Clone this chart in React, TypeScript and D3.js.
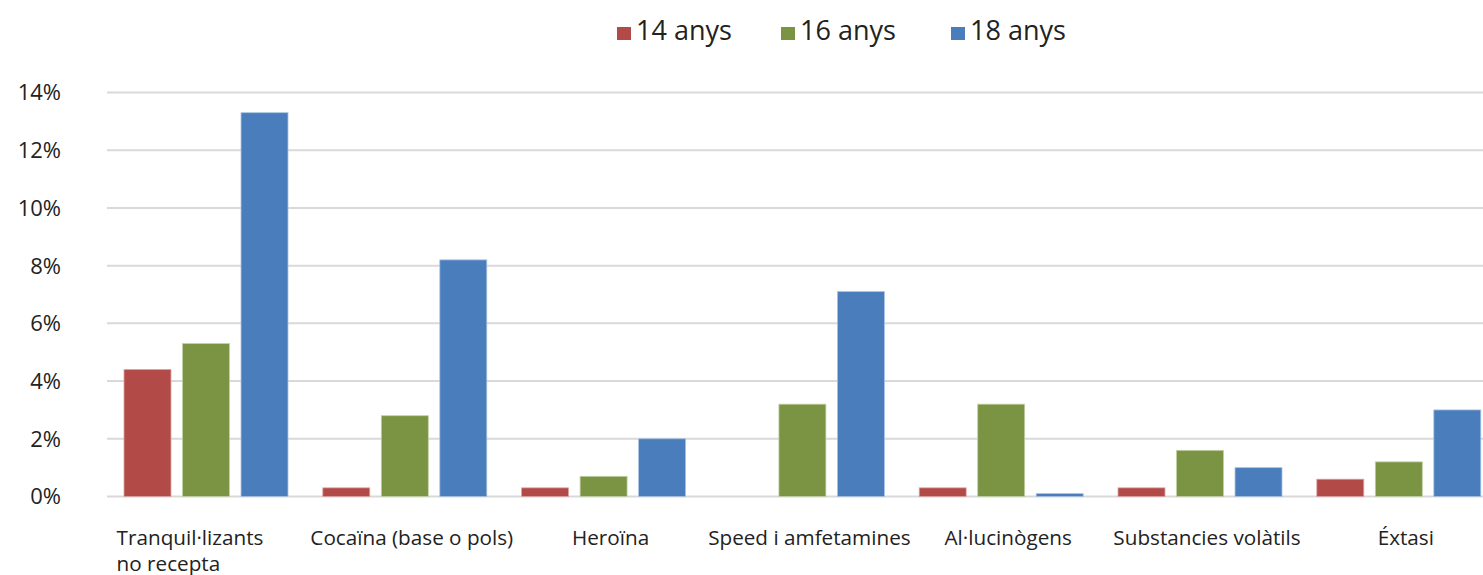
import React from "react";
import * as d3 from "d3";

const categories = [
  ["Tranquil·lizants", "no recepta"],
  ["Cocaïna (base o pols)"],
  ["Heroïna"],
  ["Speed i amfetamines"],
  ["Al·lucinògens"],
  ["Substancies volàtils"],
  ["Éxtasi"],
];
const series = ["14 anys", "16 anys", "18 anys"];
const values14 = [4.4, 0.3, 0.3, 0, 0.3, 0.3, 0.6];
const values16 = [5.3, 2.8, 0.7, 3.2, 3.2, 1.6, 1.2];
const values18 = [13.3, 8.2, 2.0, 7.1, 0.1, 1.0, 3.0];
const yTicks = [0, 2, 4, 6, 8, 10, 12, 14];
const colors = ["#B24B47", "#7A9443", "#4A7DBB"];
const strokes = ["#D9A5A3", "#C3D0A6", "#A9C2E2"];

const W = 1483;
const H = 575;
const FONT = "'Open Sans', 'Noto Sans', sans-serif";

export default function App() {
  const keys = categories.map((c) => c.join(" "));
  const data = [values14, values16, values18];
  const x = d3.scaleBand<string>().domain(keys).range([106.6, 1498.2]).paddingInner(0).paddingOuter(0);
  const xs = d3.scaleBand<string>().domain(series).range([0, x.bandwidth()]).paddingInner(0.197).paddingOuter(0.2975);
  const y = d3.scaleLinear().domain([0, 14]).range([496.5, 92.5]);

  const legendX = [617, 781, 951];

  return (
    <svg width={W} height={H} style={{ position: "absolute", left: 0, top: 0, background: "#fff" }}>
      {yTicks.map((t) => (
        <g key={t}>
          <line x1={107} x2={W} y1={y(t)} y2={y(t)} stroke="#D9D9D9" strokeWidth={2} />
          <text x={61} y={y(t)} dy="0.36em" textAnchor="end" fontFamily={FONT} fontSize={22} fill="#222">
            {t}%
          </text>
        </g>
      ))}
      {keys.map((k, i) => (
        <g key={k} transform={`translate(${x(k)},0)`}>
          {series.map((s, j) => {
            const v = data[j][i];
            if (!v) return null;
            return (
              <rect
                key={s}
                x={xs(s)}
                y={y(v)}
                width={xs.bandwidth()}
                height={y(0) - y(v)}
                fill={colors[j]}
                stroke={strokes[j]}
                strokeWidth={0.8}
              />
            );
          })}
        </g>
      ))}
      {categories.map((lines, i) => {
        const k = keys[i];
        const multi = lines.length > 1;
        const cx = (x(k) as number) + x.bandwidth() / 2;
        const tx = multi ? (x(k) as number) + 10 : cx + 7;
        return (
          <text
            key={k}
            x={tx}
            y={545}
            textAnchor={multi ? "start" : "middle"}
            fontFamily={FONT}
            fontSize={20.7}
            fill="#222"
          >
            {lines.map((l, li) => (
              <tspan key={li} x={tx} dy={li === 0 ? 0 : 26}>
                {l}
              </tspan>
            ))}
          </text>
        );
      })}
      {series.map((s, j) => (
        <g key={s} transform={`translate(${legendX[j]},0)`}>
          <rect x={0} y={27} width={14} height={13} fill={colors[j]} />
          <text x={19} y={40} fontFamily={FONT} fontSize={27} fill="#222">
            {s}
          </text>
        </g>
      ))}
    </svg>
  );
}
